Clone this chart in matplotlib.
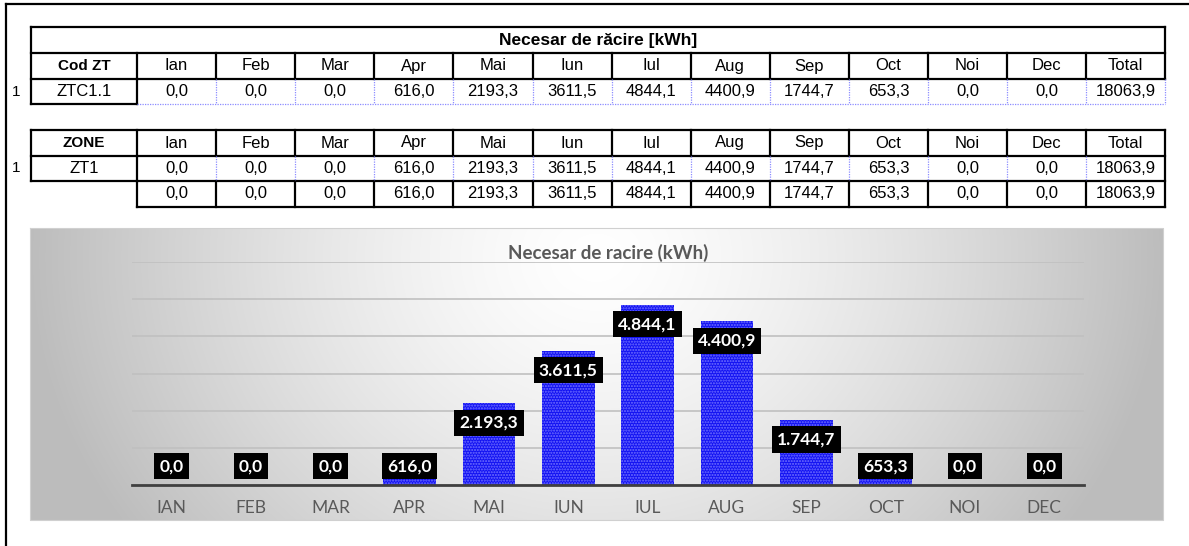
import numpy as np
import matplotlib.pyplot as plt

# data
months = ["Ian", "Feb", "Mar", "Apr", "Mai", "Iun", "Iul", "Aug", "Sep", "Oct", "Noi", "Dec"]
month_caps = ["IAN", "FEB", "MAR", "APR", "MAI", "IUN", "IUL", "AUG", "SEP", "OCT", "NOI", "DEC"]
cooling = [0.0, 0.0, 0.0, 616.0, 2193.3, 3611.5, 4844.1, 4400.9, 1744.7, 653.3, 0.0, 0.0]
total = 18063.9
zone_code = "ZTC1.1"
zone_name = "ZT1"
table_title = "Necesar de răcire [kWh]"
chart_title = "Necesar de racire (kWh)"

W, H = 1189, 546
TABLE_FONT = ["Liberation Sans", "DejaVu Sans"]
CHART_FONT = ["Lato", "DejaVu Sans"]


def ro_num(v, thousands=False):
    s = f"{v:,.1f}" if thousands else f"{v:.1f}"
    return s.replace(",", "X").replace(".", ",").replace("X", ".")


def hline(ax, x0, x1, y, dotted=False):
    if dotted:
        ax.plot([x0, x1], [y, y], color="#8c8cff", lw=0.9, ls=(0, (1, 1)))
    else:
        ax.plot([x0, x1], [y, y], color="black", lw=1.6, solid_capstyle="projecting")


def vline(ax, x, y0, y1, dotted=False):
    if dotted:
        ax.plot([x, x], [y0, y1], color="#8c8cff", lw=0.9, ls=(0, (1, 1)))
    else:
        ax.plot([x, x], [y0, y1], color="black", lw=1.6, solid_capstyle="projecting")


def cell_text(ax, x, y, s, bold=False):
    if bold:
        ax.text(x, y, s, ha="center", va="center", fontsize=11, fontweight="bold",
                family=TABLE_FONT)
    else:
        ax.text(x, y, s, ha="center", va="center", fontsize=12, family=TABLE_FONT)


fig = plt.figure(figsize=(W / 100, H / 100), dpi=100)
base = fig.add_axes([0, 0, 1, 1])
base.set_xlim(0, W)
base.set_ylim(H, 0)
base.axis("off")

# page frame
base.plot([6, W], [4, 4], color="black", lw=1.6)
base.plot([6, 6], [4, H], color="black", lw=1.6)

left, first_col = 31, 137
col_w = 79.1
edges = [first_col + col_w * k for k in range(14)]
right = edges[-1]
row_vals = [ro_num(v) for v in cooling] + [ro_num(total)]
headers = months + ["Total"]

# --- table 1
t1 = [27, 53, 79, 104]
hline(base, left, right, t1[0])
hline(base, left, right, t1[1])
hline(base, left, right, t1[2])
vline(base, left, t1[0], t1[3])
vline(base, right, t1[0], t1[2])
base.text((left + right) / 2, (t1[0] + t1[1]) / 2, table_title, ha="center", va="center",
          fontsize=12.5, fontweight="bold", family=TABLE_FONT)
for x in edges[:-1]:
    vline(base, x, t1[1], t1[2])
vline(base, first_col, t1[2], t1[3])
for x in edges[1:]:
    vline(base, x, t1[2], t1[3], dotted=True)
hline(base, left, first_col, t1[3])
hline(base, first_col, right, t1[3], dotted=True)
cell_text(base, (left + first_col) / 2, (t1[1] + t1[2]) / 2, "Cod ZT", bold=True)
cell_text(base, (left + first_col) / 2, (t1[2] + t1[3]) / 2, zone_code)
base.text(16, (t1[2] + t1[3]) / 2, "1", ha="center", va="center", fontsize=11, family=TABLE_FONT)
for i in range(13):
    cx = (edges[i] + edges[i + 1]) / 2
    cell_text(base, cx, (t1[1] + t1[2]) / 2, headers[i])
    cell_text(base, cx, (t1[2] + t1[3]) / 2, row_vals[i])

# --- table 2
t2 = [130, 156, 181, 207]
hline(base, left, right, t2[0])
hline(base, left, right, t2[1])
hline(base, left, right, t2[2])
hline(base, first_col, right, t2[3])
vline(base, left, t2[0], t2[2])
vline(base, right, t2[0], t2[3])
for x in edges[:-1]:
    vline(base, x, t2[0], t2[1])
    vline(base, x, t2[2], t2[3])
vline(base, first_col, t2[1], t2[2])
for x in edges[1:-1]:
    vline(base, x, t2[1], t2[2], dotted=True)
cell_text(base, (left + first_col) / 2, (t2[0] + t2[1]) / 2, "ZONE", bold=True)
cell_text(base, (left + first_col) / 2, (t2[1] + t2[2]) / 2, zone_name)
base.text(16, (t2[1] + t2[2]) / 2, "1", ha="center", va="center", fontsize=11, family=TABLE_FONT)
for i in range(13):
    cx = (edges[i] + edges[i + 1]) / 2
    cell_text(base, cx, (t2[0] + t2[1]) / 2, headers[i])
    cell_text(base, cx, (t2[1] + t2[2]) / 2, row_vals[i])
    cell_text(base, cx, (t2[2] + t2[3]) / 2, row_vals[i])

# --- chart background (grey path gradient, light toward the top middle)
cx0, cx1, cy0, cy1 = 30, 1163, 228, 520
gx = np.linspace(-1, 1, 400)
gy = np.linspace(0, 1, 200)
XX, YY = np.meshgrid(gx, gy)
d = np.clip(np.sqrt(XX ** 2 + (0.6 * (YY - 0.1)) ** 2), 0, 1)
shade = 1.0 - 0.26 * d ** 1.4
base.imshow(np.dstack([shade] * 3), extent=(cx0, cx1, cy1, cy0), aspect="auto",
            interpolation="bilinear", zorder=0)
base.plot([cx0, cx1, cx1, cx0, cx0], [cy0, cy0, cy1, cy1, cy0], color="#d0d0d0", lw=0.8)
base.set_xlim(0, W)
base.set_ylim(H, 0)

plot_l, plot_r, plot_t, plot_b = 132, 1084, 262, 485
ax = fig.add_axes([plot_l / W, (H - plot_b) / H, (plot_r - plot_l) / W, (plot_b - plot_t) / H])
ax.patch.set_alpha(0)
x = np.arange(len(month_caps))
ax.bar(x, cooling, width=0.66, color="#1212f2", edgecolor="#7272ff", hatch="......",
       linewidth=0, zorder=3)
ax.set_xlim(-0.5, len(month_caps) - 0.5)
ax.set_ylim(0, 6000)
ax.set_yticks(np.arange(0, 6001, 1000))
ax.yaxis.grid(True, color="#c0c0c0", lw=1.2, zorder=0)
ax.tick_params(axis="y", left=False, labelleft=False)
ax.tick_params(axis="x", length=0, pad=11, labelsize=12.5, labelcolor="#595959")
ax.set_xticks(x, month_caps, family=CHART_FONT)
for side in ["top", "left", "right"]:
    ax.spines[side].set_visible(False)
ax.spines["bottom"].set_color("#404040")
ax.spines["bottom"].set_linewidth(2)
ax.spines["bottom"].set_zorder(4)

for xi, v in zip(x, cooling):
    y = max(v - 520, 510)
    ax.text(xi, y, ro_num(v, thousands=True), ha="center", va="center", color="white",
            fontsize=12.5, fontweight="bold", family=CHART_FONT, zorder=5,
            bbox=dict(boxstyle="square,pad=0.3", fc="black", ec="none"))

base.text((plot_l + plot_r) / 2, 253, chart_title, ha="center", va="center", fontsize=13.5,
          fontweight="bold", color="#595959", family=CHART_FONT)

fig.savefig("out.png", dpi=100)
